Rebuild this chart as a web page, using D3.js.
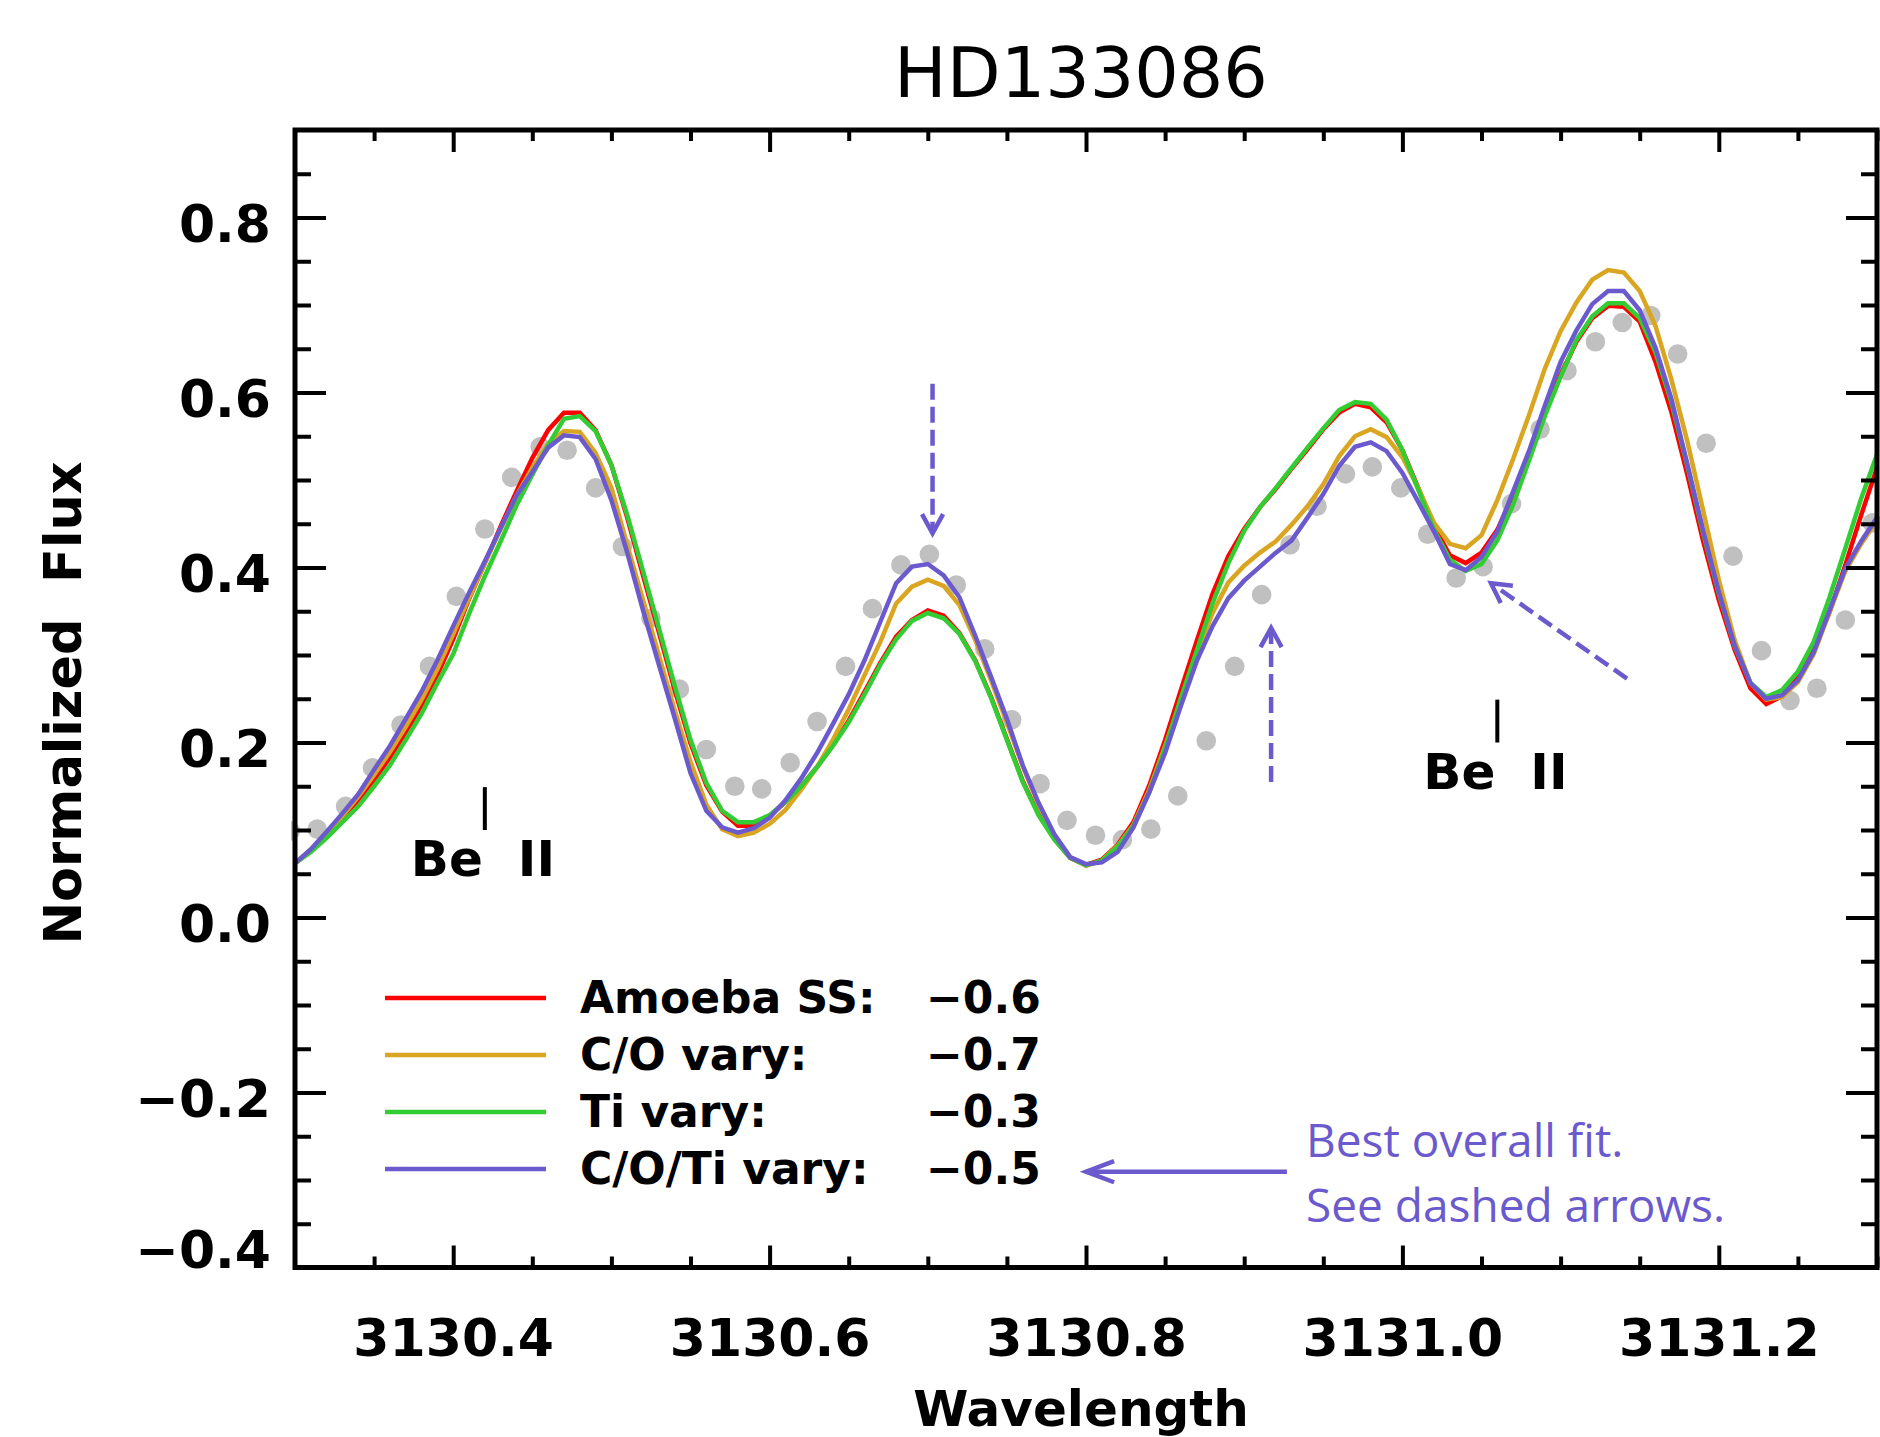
<!DOCTYPE html>
<html>
<head>
<meta charset="utf-8">
<script src="https://cdn.jsdelivr.net/npm/d3@7"></script>
<style>
body { margin: 0; background: #fff; }
svg { display: block; }
</style>
</head>
<body>
<svg id="chart" width="1880" height="1437"></svg>
<script>
// synthetic spectra, sampled every 0.01 A
var modelWave = [
	3130.30, 3130.31, 3130.32, 3130.33, 3130.34, 3130.35, 3130.36, 3130.37, 3130.38, 3130.39,
	3130.40, 3130.41, 3130.42, 3130.43, 3130.44, 3130.45, 3130.46, 3130.47, 3130.48, 3130.49,
	3130.50, 3130.51, 3130.52, 3130.53, 3130.54, 3130.55, 3130.56, 3130.57, 3130.58, 3130.59,
	3130.60, 3130.61, 3130.62, 3130.63, 3130.64, 3130.65, 3130.66, 3130.67, 3130.68, 3130.69,
	3130.70, 3130.71, 3130.72, 3130.73, 3130.74, 3130.75, 3130.76, 3130.77, 3130.78, 3130.79,
	3130.80, 3130.81, 3130.82, 3130.83, 3130.84, 3130.85, 3130.86, 3130.87, 3130.88, 3130.89,
	3130.90, 3130.91, 3130.92, 3130.93, 3130.94, 3130.95, 3130.96, 3130.97, 3130.98, 3130.99,
	3131.00, 3131.01, 3131.02, 3131.03, 3131.04, 3131.05, 3131.06, 3131.07, 3131.08, 3131.09,
	3131.10, 3131.11, 3131.12, 3131.13, 3131.14, 3131.15, 3131.16, 3131.17, 3131.18, 3131.19,
	3131.20, 3131.21, 3131.22, 3131.23, 3131.24, 3131.25, 3131.26, 3131.27, 3131.28, 3131.29,
	3131.30];

var fluxAmoeba = [
	.062, .076, .093, .113, .133, .157, .183, .211, .242, .277,
	.318, .364, .405, .447, .487, .525, .557, .577, .577, .557,
	.517, .457, .391, .326, .260, .199, .151, .121, .105, .105,
	.116, .132, .150, .172, .197, .225, .258, .291, .321, .340,
	.351, .345, .325, .294, .252, .204, .156, .118, .090, .068,
	.060, .066, .083, .109, .151, .203, .260, .316, .370, .413,
	.444, .469, .490, .513, .535, .558, .577, .587, .583, .566,
	.534, .491, .447, .414, .405, .417, .443, .483, .529, .577,
	.620, .658, .685, .699, .698, .681, .635, .578, .507, .431,
	.363, .306, .262, .244, .253, .274, .306, .349, .403, .460,
	.514];

var fluxCO = [
	.062, .077, .095, .116, .138, .163, .189, .218, .249, .284,
	.324, .365, .405, .444, .482, .514, .541, .556, .555, .531,
	.491, .426, .363, .300, .237, .178, .129, .101, .093, .097,
	.107, .123, .146, .172, .203, .238, .277, .315, .359, .378,
	.386, .379, .357, .317, .271, .223, .173, .129, .094, .069,
	.059, .065, .082, .106, .146, .196, .247, .301, .348, .383,
	.402, .417, .430, .449, .470, .495, .527, .550, .558, .549,
	.526, .491, .451, .427, .422, .437, .477, .524, .574, .627,
	.670, .703, .729, .740, .737, .716, .676, .615, .545, .466,
	.386, .317, .268, .249, .252, .269, .301, .349, .396, .427,
	.454];

var fluxTi = [
	.062, .075, .091, .109, .127, .150, .174, .203, .233, .268,
	.301, .347, .390, .430, .471, .506, .540, .570, .573, .556,
	.517, .460, .396, .331, .265, .203, .154, .122, .109, .109,
	.117, .132, .150, .172, .196, .223, .255, .289, .318, .339,
	.348, .342, .324, .293, .251, .203, .155, .117, .089, .068,
	.060, .065, .081, .105, .143, .194, .251, .305, .359, .405,
	.442, .469, .491, .514, .537, .559, .580, .589, .587, .569,
	.534, .489, .443, .409, .396, .404, .431, .472, .522, .573,
	.618, .660, .687, .702, .702, .685, .646, .589, .517, .440,
	.370, .310, .268, .252, .260, .281, .315, .366, .422, .479,
	.529];

var fluxCOTi = [
	.062, .078, .098, .119, .141, .169, .196, .227, .258, .294,
	.333, .371, .407, .445, .482, .509, .537, .551, .549, .524,
	.477, .417, .351, .289, .228, .165, .122, .103, .097, .102,
	.114, .134, .159, .188, .221, .255, .294, .338, .382, .401,
	.404, .391, .366, .322, .275, .227, .174, .131, .095, .069,
	.061, .063, .075, .103, .143, .188, .242, .293, .333, .365,
	.385, .401, .417, .431, .457, .484, .516, .538, .543, .533,
	.508, .475, .441, .404, .397, .412, .441, .487, .533, .585,
	.635, .671, .701, .716, .716, .694, .651, .593, .519, .443,
	.372, .311, .268, .250, .254, .271, .303, .351, .399, .430,
	.457];

// observed spectrum (grey dots)
var obsWave = [
	3130.297, 3130.314, 3130.332, 3130.349, 3130.367, 3130.385, 3130.402, 3130.420, 3130.437, 3130.455,
	3130.472, 3130.490, 3130.507, 3130.525, 3130.543, 3130.560, 3130.578, 3130.595, 3130.613, 3130.630,
	3130.648, 3130.665, 3130.683, 3130.701, 3130.718, 3130.736, 3130.753, 3130.771, 3130.788, 3130.806,
	3130.823, 3130.841, 3130.858, 3130.876, 3130.894, 3130.911, 3130.929, 3130.946, 3130.964, 3130.981,
	3130.999, 3131.016, 3131.034, 3131.051, 3131.069, 3131.087, 3131.104, 3131.122, 3131.139, 3131.157,
	3131.174, 3131.192, 3131.209, 3131.227, 3131.245, 3131.262, 3131.280, 3131.297];
var obsFlux = [
	0.099, 0.101, 0.127, 0.171, 0.220, 0.287, 0.367, 0.444, 0.503, 0.538,
	0.534, 0.491, 0.424, 0.342, 0.261, 0.192, 0.150, 0.147, 0.177, 0.224,
	0.287, 0.353, 0.403, 0.415, 0.380, 0.307, 0.226, 0.153, 0.111, 0.094,
	0.089, 0.101, 0.139, 0.202, 0.287, 0.369, 0.426, 0.470, 0.507, 0.515,
	0.491, 0.438, 0.388, 0.401, 0.473, 0.558, 0.625, 0.658, 0.680, 0.688,
	0.644, 0.542, 0.413, 0.305, 0.248, 0.262, 0.340, 0.451];

var seriesNames = ['Amoeba SS:', 'C/O vary:', 'Ti vary:', 'C/O/Ti vary:'];
var seriesBe = [-0.6, -0.7, -0.3, -0.5];
var seriesColors = ['#ff0000', '#daa520', '#32cd32', '#6a5acd'];

var xMajor = [3130.4, 3130.6, 3130.8, 3131.0, 3131.2];
var yMajor = [-0.4, -0.2, 0.0, 0.2, 0.4, 0.6, 0.8];

// Be II line markers: wavelength, bottom and top of the tick
var beWave = [3130.420, 3131.060];
var beLow = [0.100, 0.200];
var beHigh = [0.149, 0.249];

// annotation arrows in data units: [w1, f1, w2, f2] tail -> tip
var dashArrows = [
	[3130.703, 0.610, 3130.703, 0.439],
	[3130.917, 0.155, 3130.917, 0.331],
	[3131.142, 0.273, 3131.056, 0.382]
];
var fitArrow = [3130.927, -0.2905, 3130.800, -0.2905];
var fitNote = ['Best overall fit.', 'See dashed arrows.'];

var svg = d3.select('#chart');
var W = 1880, H = 1437;
var margin = {left: 295, right: 3, top: 130, bottom: 169.5};
var fontBold = "'DejaVu Sans', sans-serif";
var purple = '#6a5acd';

svg.append('rect').attr('width', W).attr('height', H).attr('fill', '#fff');

var x = d3.scaleLinear().domain([3130.3, 3131.3]).range([margin.left, W - margin.right]);
var y = d3.scaleLinear().domain([-0.4, 0.9]).range([H - margin.bottom, margin.top]);

var bottomY = y(-0.4), topY = y(0.9), leftX = x(3130.3), rightX = x(3131.3);

svg.append('clipPath').attr('id', 'plotclip')
	.append('rect')
	.attr('x', leftX).attr('y', topY)
	.attr('width', rightX - leftX)
	.attr('height', bottomY - topY);
svg.append('clipPath').attr('id', 'dotclip')
	.append('rect')
	.attr('x', leftX - 4).attr('y', topY)
	.attr('width', rightX - leftX + 8)
	.attr('height', bottomY - topY);

// observed points
svg.append('g').attr('clip-path', 'url(#dotclip)')
	.selectAll('circle')
	.data(obsWave)
	.enter()
	.append('circle')
	.attr('cx', function(d) {return x(d);})
	.attr('cy', function(d, i) {return y(obsFlux[i]);})
	.attr('r', 9.8)
	.attr('fill', '#c0c0c0');

// model curves
var line = d3.line()
	.x(function(d, i) {return x(modelWave[i]);})
	.y(function(d) {return y(d);});

var models = [fluxAmoeba, fluxCO, fluxTi, fluxCOTi];
svg.append('g').attr('clip-path', 'url(#plotclip)')
	.selectAll('path')
	.data(models)
	.enter()
	.append('path')
	.attr('d', function(d) {return line(d);})
	.attr('fill', 'none')
	.attr('stroke', function(d, i) {return seriesColors[i];})
	.attr('stroke-width', 4.5)
	.attr('stroke-linejoin', 'miter');

// axes, ticks pointing inward on all four sides
function styleAxis(g) {
	g.select('.domain').remove();
	g.selectAll('.tick line').attr('stroke', '#000').attr('stroke-width', 4);
	g.selectAll('.tick text')
		.attr('fill', '#000')
		.style('font-family', fontBold)
		.style('font-weight', 'bold')
		.style('font-size', '52px');
	return g;
}

var xMinor = d3.range(3130.35, 3131.3, 0.05).filter(function(v) {
	return xMajor.every(function(m) {return Math.abs(m - v) > 1e-6;});
});
var yMinor = d3.range(-0.35, 0.9, 0.05).filter(function(v) {
	return yMajor.every(function(m) {return Math.abs(m - v) > 1e-6;});
});
var fmt = d3.format('.1f');

styleAxis(svg.append('g').attr('transform', 'translate(0,' + bottomY + ')')
	.call(d3.axisBottom(x).tickValues(xMajor).tickSize(-22).tickPadding(52).tickFormat(fmt)));
styleAxis(svg.append('g').attr('transform', 'translate(0,' + bottomY + ')')
	.call(d3.axisBottom(x).tickValues(xMinor).tickSize(-11).tickFormat('')));
styleAxis(svg.append('g').attr('transform', 'translate(0,' + topY + ')')
	.call(d3.axisTop(x).tickValues(xMajor).tickSize(-22).tickFormat('')));
styleAxis(svg.append('g').attr('transform', 'translate(0,' + topY + ')')
	.call(d3.axisTop(x).tickValues(xMinor).tickSize(-11).tickFormat('')));

var yAxisG = styleAxis(svg.append('g').attr('transform', 'translate(' + leftX + ',0)')
	.call(d3.axisLeft(y).tickValues(yMajor).tickSize(-31).tickPadding(24).tickFormat(fmt)));
yAxisG.selectAll('.tick text').attr('dy', function(d) {return d === -0.4 ? '0em' : '0.46em';});
styleAxis(svg.append('g').attr('transform', 'translate(' + leftX + ',0)')
	.call(d3.axisLeft(y).tickValues(yMinor).tickSize(-16).tickFormat('')));
styleAxis(svg.append('g').attr('transform', 'translate(' + rightX + ',0)')
	.call(d3.axisRight(y).tickValues(yMajor).tickSize(-31).tickFormat('')));
styleAxis(svg.append('g').attr('transform', 'translate(' + rightX + ',0)')
	.call(d3.axisRight(y).tickValues(yMinor).tickSize(-16).tickFormat('')));

svg.append('rect')
	.attr('x', leftX).attr('y', topY)
	.attr('width', rightX - leftX).attr('height', bottomY - topY)
	.attr('fill', 'none').attr('stroke', '#000').attr('stroke-width', 5);

// titles
svg.append('text')
	.attr('x', 1081).attr('y', 97)
	.attr('text-anchor', 'middle')
	.style('font-family', "'DejaVu Sans', sans-serif")
	.style('font-size', '70px')
	.text('HD133086');

svg.append('text')
	.attr('x', 1081).attr('y', 1426)
	.attr('text-anchor', 'middle')
	.style('font-family', fontBold).style('font-weight', 'bold').style('font-size', '50px')
	.text('Wavelength');

svg.append('text')
	.attr('transform', 'translate(81,703) rotate(-90)')
	.attr('text-anchor', 'middle')
	.style('font-family', fontBold).style('font-weight', 'bold').style('font-size', '51px')
	.style('white-space', 'pre')
	.text('Normalized  Flux');

// Be II markers
beWave.forEach(function(w, i) {
	var xx = x(w);
	svg.append('line')
		.attr('x1', xx).attr('x2', xx)
		.attr('y1', y(beLow[i])).attr('y2', y(beHigh[i]))
		.attr('stroke', '#000').attr('stroke-width', 4);
	var base = y(beLow[i]) + 46;
	svg.append('text')
		.attr('x', xx - 2).attr('y', base)
		.attr('text-anchor', 'end')
		.style('font-family', fontBold).style('font-weight', 'bold').style('font-size', '50px')
		.text('Be');
	svg.append('text')
		.attr('x', xx + 33).attr('y', base)
		.style('font-family', fontBold).style('font-weight', 'bold').style('font-size', '50px')
		.text('II');
});

// legend
var legend = svg.append('g');
seriesNames.forEach(function(name, i) {
	var ly = 998 + i * 57;
	legend.append('line')
		.attr('x1', 385).attr('x2', 546)
		.attr('y1', ly).attr('y2', ly)
		.attr('stroke', seriesColors[i]).attr('stroke-width', 4.5);
	legend.append('text')
		.attr('x', 580).attr('y', ly + 15)
		.style('font-family', fontBold).style('font-weight', 'bold').style('font-size', '44px')
		.text(name);
	legend.append('text')
		.attr('x', 926).attr('y', ly + 15)
		.style('font-family', fontBold).style('font-weight', 'bold').style('font-size', '44px')
		.text(fmt(seriesBe[i]));
});

// arrows
function arrow(a, dashed, headLen, headAng) {
	var x1 = x(a[0]), y1 = y(a[1]), x2 = x(a[2]), y2 = y(a[3]);
	var ang = Math.atan2(y2 - y1, x2 - x1);
	svg.append('line')
		.attr('x1', x1).attr('y1', y1).attr('x2', x2).attr('y2', y2)
		.attr('stroke', purple).attr('stroke-width', 4.5)
		.attr('stroke-dasharray', dashed ? '16,7' : null);
	var p1 = [x2 - headLen * Math.cos(ang - headAng), y2 - headLen * Math.sin(ang - headAng)];
	var p2 = [x2 - headLen * Math.cos(ang + headAng), y2 - headLen * Math.sin(ang + headAng)];
	svg.append('path')
		.attr('d', 'M' + p1 + 'L' + [x2, y2] + 'L' + p2)
		.attr('fill', 'none').attr('stroke', purple)
		.attr('stroke-width', 4.5).attr('stroke-linejoin', 'miter');
}
dashArrows.forEach(function(a) {arrow(a, true, 22, 0.5);});
arrow(fitArrow, false, 30, 0.36);

fitNote.forEach(function(t, i) {
	svg.append('text')
		.attr('x', 1306).attr('y', 1157 + i * 65)
		.attr('fill', purple)
		.style('font-family', "'Open Sans', sans-serif")
		.style('font-size', '46px')
		.text(t);
});
</script>
</body>
</html>
